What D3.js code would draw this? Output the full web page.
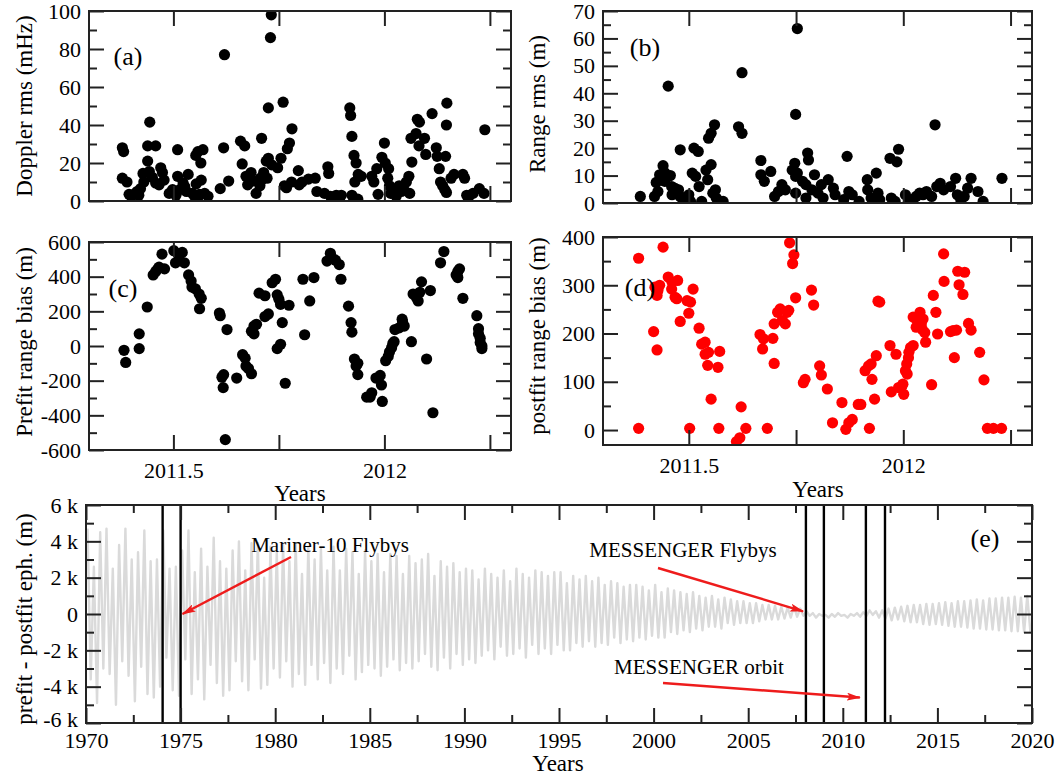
<!DOCTYPE html>
<html><head><meta charset="utf-8">
<script src="https://cdn.jsdelivr.net/npm/d3@7"></script>
<style>
body{margin:0;background:#fff}
svg{display:block}
text{font-family:"Liberation Serif","Times New Roman",Times,serif;fill:#000}
</style>
</head><body>
<svg id="chart" width="1059" height="776"></svg>
<script>
// ---------- Panel (a): Doppler rms (mHz) ----------
const aYear = [2011.379,2011.382,2011.379,2011.390,2011.395,2011.400,2011.410,2011.418,2011.414,2011.422,2011.430,2011.428,2011.439,2011.439,2011.444,2011.458,2011.443,2011.450,2011.458,2011.470,2011.474,2011.478,2011.466,2011.490,2011.498,2011.506,2011.510,2011.510,2011.515,2011.523,2011.531,2011.535,2011.527,2011.545,2011.550,2011.554,2011.558,2011.562,2011.558,2011.553,2011.565,2011.566,2011.570,2011.582,2011.574,2011.611,2011.619,2011.621,2011.631,2011.659,2011.669,2011.663,2011.672,2011.676,2011.684,2011.688,2011.696,2011.705,2011.709,2011.709,2011.720,2011.725,2011.725,2011.730,2011.732,2011.733,2011.722,2011.714,2011.706,2011.747,2011.755,2011.760,2011.770,2011.775,2011.781,2011.763,2011.768,2011.780,2011.796,2011.798,2011.805,2011.820,2011.836,2011.840,2011.858,2011.872,2011.886,2011.866,2011.868,2011.898,2011.918,2011.920,2011.923,2011.923,2011.928,2011.933,2011.930,2011.938,2011.945,2011.937,2011.970,2011.975,2011.982,2011.985,2011.994,2012.000,2012.002,2012.010,2012.008,2012.012,2012.015,2012.022,2012.028,2012.035,2012.040,2012.046,2012.052,2012.058,2012.060,2012.065,2012.063,2012.075,2012.078,2012.083,2012.082,2012.095,2012.098,2012.113,2012.123,2012.125,2012.130,2012.133,2012.138,2012.143,2012.147,2012.148,2012.147,2012.145,2012.158,2012.165,2012.186,2012.190,2012.195,2012.202,2012.210,2012.225,2012.236,2012.238];
const aVal  = [28,26,12,10,3.5,2.5,4,3,5,6.5,10,14.5,21,29,41.5,29,15.5,12.5,9.5,17.5,15,11,8.5,4,6,3,13,27,6,9.5,5,14,7.5,4,2.5,9,1.8,3.5,26,24,20,11,27,2.5,4,6.5,28,77,10.5,31.5,29,19.5,13,8.5,15,10.5,4,8,11,33,21,22.5,49,86,98,19,12,15,12,17.5,22.5,52,27.5,30.5,38,8,7,10,16,8.5,10,11.5,12,5,4,2.5,3,18,14.5,3,49,45,34,3,24,20,10,14,13,1,13,10,17,3.5,23,30.5,20,17,12,8,4,6,2.5,8,5,6,10,13,4,20.5,33,35.5,43,41.5,29,33,24.5,46,28,23.5,17,10,8,6,4.5,51.5,40,23.5,12,14,14,12,3,3,4,6.5,4,37.5];

// ---------- Panel (b): Range rms (m) ----------
const bYear = [2011.387,2011.420,2011.428,2011.424,2011.432,2011.440,2011.444,2011.452,2011.444,2011.457,2011.460,2011.461,2011.468,2011.476,2011.480,2011.484,2011.480,2011.500,2011.504,2011.508,2011.512,2011.516,2011.522,2011.524,2011.530,2011.540,2011.544,2011.546,2011.552,2011.552,2011.556,2011.560,2011.562,2011.564,2011.572,2011.580,2011.616,2011.624,2011.624,2011.668,2011.668,2011.676,2011.691,2011.700,2011.709,2011.717,2011.725,2011.741,2011.747,2011.749,2011.749,2011.753,2011.749,2011.753,2011.765,2011.773,2011.777,2011.779,2011.773,2011.787,2011.793,2011.801,2011.809,2011.813,2011.825,2011.837,2011.841,2011.861,2011.869,2011.873,2011.881,2011.897,2011.916,2011.917,2011.925,2011.937,2011.941,2011.945,2011.969,2011.972,2011.985,2011.989,2011.981,2012.005,2012.012,2012.022,2012.030,2012.038,2012.046,2012.054,2012.066,2012.074,2012.078,2012.086,2012.094,2012.110,2012.122,2012.126,2012.134,2012.142,2012.150,2012.158,2012.174,2012.186,2012.230];
const bVal  = [2.4,2.4,4.2,7.5,10.3,13.6,11,42.6,7.9,10,6,3,5.3,4.8,2.4,1.8,19.4,3,0.6,10.9,20,9.7,18.8,6,0.6,12,8.5,23.6,25.4,14,3.6,28.5,4.8,1.8,0.6,0.6,27.8,25.4,47.5,15.5,10.3,7.9,11.5,2.4,4.2,6.7,4.8,12,14.5,3.6,9.7,10.9,32.3,63.6,7.9,6.7,18.2,15.7,1.8,4.8,10.3,3.6,6.7,1.8,8.5,5.4,3,1.2,17,4.2,3,0.6,8.5,4.8,1.8,10.9,3.6,1.2,16.3,1.8,15,19.6,0.6,3,0.6,1.2,2.4,3.6,3,4.2,2.4,28.5,6,7.2,4.8,6,9,3,1.2,2.4,5.4,9,4.2,0.6,9];

// ---------- Panel (c): Prefit range bias (m) ----------
const cYear = [2011.383,2011.387,2011.419,2011.419,2011.438,2011.452,2011.458,2011.463,2011.466,2011.473,2011.479,2011.501,2011.505,2011.513,2011.521,2011.526,2011.536,2011.542,2011.544,2011.552,2011.561,2011.566,2011.562,2011.609,2011.611,2011.615,2011.619,2011.618,2011.623,2011.627,2011.650,2011.664,2011.670,2011.672,2011.678,2011.685,2011.685,2011.691,2011.691,2011.697,2011.703,2011.717,2011.717,2011.725,2011.734,2011.742,2011.746,2011.750,2011.754,2011.758,2011.746,2011.754,2011.765,2011.774,2011.807,2011.811,2011.823,2011.833,2011.864,2011.872,2011.874,2011.884,2011.893,2011.897,2011.915,2011.921,2011.923,2011.929,2011.933,2011.937,2011.937,2011.958,2011.966,2011.970,2011.980,2011.990,2011.993,2011.995,2012.003,2012.009,2012.012,2012.017,2012.020,2012.023,2012.025,2012.035,2012.042,2012.043,2012.047,2012.064,2012.068,2012.076,2012.080,2012.084,2012.088,2012.100,2012.109,2012.115,2012.133,2012.141,2012.170,2012.174,2012.178,2012.174,2012.186,2012.219,2012.223,2012.223,2012.227,2012.227,2012.231,2012.231];
const cVal  = [-25,-95,70,-15,225,410,430,445,455,530,445,550,480,520,540,480,410,375,340,330,300,275,215,190,175,-180,-165,-240,-540,95,-185,-50,-70,-115,-130,-160,85,70,115,125,305,290,170,185,365,385,295,270,240,135,-15,10,-215,235,385,65,260,395,490,535,515,495,470,385,230,135,80,-75,-115,-100,-165,-295,-295,-270,-185,-170,-225,-320,-85,-60,-35,-10,15,25,95,105,155,140,115,25,300,280,260,310,370,-75,320,-385,480,545,410,430,445,395,275,175,100,70,45,20,0,-15];

// ---------- Panel (d): postfit range bias (m) ----------
const dYear = [2011.383,2011.383,2011.418,2011.426,2011.421,2011.426,2011.432,2011.428,2011.440,2011.452,2011.461,2011.460,2011.468,2011.472,2011.474,2011.480,2011.496,2011.500,2011.504,2011.510,2011.502,2011.524,2011.530,2011.538,2011.538,2011.546,2011.544,2011.552,2011.568,2011.572,2011.570,2011.611,2011.619,2011.622,2011.633,2011.666,2011.672,2011.674,2011.683,2011.696,2011.699,2011.699,2011.707,2011.713,2011.718,2011.725,2011.729,2011.733,2011.735,2011.745,2011.742,2011.749,2011.767,2011.771,2011.786,2011.791,2011.805,2011.809,2011.823,2011.835,2011.857,2011.866,2011.873,2011.881,2011.895,2011.901,2011.911,2011.919,2011.921,2011.925,2011.927,2011.933,2011.937,2011.941,2011.945,2011.969,2011.983,2011.972,2011.989,2011.999,2012.001,2011.996,2012.005,2012.008,2012.009,2012.012,2012.013,2012.017,2012.023,2012.023,2012.030,2012.030,2012.034,2012.039,2012.042,2012.044,2012.046,2012.050,2012.052,2012.066,2012.070,2012.076,2012.080,2012.094,2012.095,2012.110,2012.116,2012.119,2012.124,2012.127,2012.130,2012.139,2012.143,2012.152,2012.158,2012.178,2012.188,2012.196,2012.210,2012.229];
const dVal  = [356,3.5,204,166,296,279,300,289,379,317,306,292,275,272,310,225,268,242,265,292,3.5,211,178,182,157,161,134,64,130,163,3.5,-24,-16,48,3.5,198,168,189,3.5,190,220,138,244,251,227,220,244,248,388,363,345,274,98,105,290,259,133,114,85,15,57,1.4,15,22,53,53,123,133,3.5,137,105,64,154,267,265,175,157,79,88,95,74,90,123,137,116,150,161,171,175,234,213,230,227,244,220,209,230,202,182,94,279,244,199,365,308,204,206,150,207,329,301,281,327,221,207,161,104,3.5,3.5,3.5];

// ---------- Panel (e): prefit - postfit ephemeris (k m), alternating max/min per year ----------
const eYears = [1970,1971,1972,1973,1974,1975,1976,1977,1978,1979,1980,1981,1982,1983,1984,1985,1986,1987,1988,1989,1990,1991,1992,1993,1994,1995,1996,1997,1998,1999,2000,2001,2002,2003,2004,2005,2006,2007,2008,2009,2010,2011,2012,2013,2014,2015,2016,2017,2018,2019];
const eSwing = [
 [4.7,-3.6,2.6,-4.9,4.5,-3.0],[4.7,-3.3,2.5,-5.0,3.8,-2.6],[4.7,-3.4,3.0,-4.8,3.4,-2.9],[4.6,-4.4,2.9,-4.6,3.0,-4.0],
 [4.6,-2.4,2.5,-4.2,2.6,-4.5],[3.5,-2.5,4.6,-4.4,2.3,-3.6],[3.6,-4.7,2.6,-2.8,4.2,-3.8],[2.9,-4.5,2.5,-4.2,3.5,-2.6],
 [4.0,-3.7,2.4,-4.2,3.9,-2.5],[3.9,-4.1,2.0,-3.9,3.7,-3.0],[3.4,-3.5,3.8,-2.6,2.9,-4.0],[3.9,-3.3,2.2,-3.9,3.7,-2.8],
 [3.0,-3.6,3.6,-2.7,2.4,-3.8],[3.7,-3.0,2.4,-3.3,3.6,-2.3],[3.4,-3.6,2.2,-3.2,3.5,-2.8],[2.9,-3.0,3.3,-3.4,2.3,-2.9],
 [3.3,-2.5,3.2,-3.1,2.2,-2.7],[3.2,-3.0,2.8,-2.6,3.0,-2.2],[3.3,-2.9,2.1,-3.1,2.9,-2.4],[2.6,-3.0,2.8,-2.2,2.3,-2.8],
 [2.5,-2.5,2.4,-2.7,1.9,-2.3],[2.5,-2.0,2.2,-2.5,2.0,-1.8],[2.4,-2.3,1.8,-2.2,2.5,-1.9],[2.2,-2.4,2.0,-1.7,2.4,-2.2],
 [2.3,-1.9,2.1,-2.2,2.3,-1.7],[2.3,-2.0,1.7,-2.0,2.1,-1.6],[1.9,-1.8,2.1,-1.5,1.8,-1.8],[2.0,-1.6,1.6,-1.7,1.8,-1.3],
 [1.7,-1.6,1.5,-1.4,1.6,-1.5],[1.6,-1.3,1.5,-1.4,1.3,-1.2],[1.6,-1.3,1.2,-1.3,1.4,-1.0],[1.3,-1.1,1.2,-0.9,1.1,-1.0],
 [1.2,-0.8,1.0,-0.9,0.9,-0.7],[1.0,-0.7,0.8,-0.8,0.9,-0.5],[0.8,-0.6,0.7,-0.5,0.7,-0.5],[0.6,-0.5,0.6,-0.4,0.5,-0.3],
 [0.5,-0.3,0.45,-0.3,0.4,-0.25],[0.35,-0.2,0.4,-0.15,0.3,-0.1],[0.15,-0.1,0.05,-0.2,0.0,-0.1],[-0.05,-0.2,0.0,-0.15,0.05,-0.1],
 [-0.05,-0.2,0.0,-0.1,0.05,-0.15],[0.1,-0.1,0.2,-0.05,0.15,-0.2],[0.2,-0.25,0.3,-0.35,0.35,-0.3],[0.4,-0.4,0.45,-0.45,0.5,-0.45],
 [0.5,-0.55,0.55,-0.6,0.55,-0.55],[0.6,-0.6,0.65,-0.65,0.6,-0.7],[0.7,-0.7,0.7,-0.75,0.75,-0.8],[0.8,-0.8,0.75,-0.85,0.85,-0.85],
 [0.85,-0.9,0.9,-0.9,0.9,-0.95],[0.95,-0.95,0.9,-1.0,1.0,-1.0]
];
const flybyYears = [1974.05, 1975.0, 2008.05, 2009.0, 2011.22, 2012.23];

// tick definitions
const aMajor=[0,20,40,60,80,100], aMinor=[10,30,50,70,90];
const bMajor=[0,10,20,30,40,50,60,70], bMinor=[5,15,25,35,45,55,65];
const cMajor=[-600,-400,-200,0,200,400,600], cMinor=[-500,-300,-100,100,300,500];
const dMajor=[0,100,200,300,400], dMinor=[50,150,250,350];
const smallXMajor=[2011.5,2012], smallXMinor=[2011.75,2012.25];
const eXMajor=[1970,1975,1980,1985,1990,1995,2000,2005,2010,2015,2020];
const eXMinor=[1972.5,1977.5,1982.5,1987.5,1992.5,1997.5,2002.5,2007.5,2012.5,2017.5];
const eYMajor=[-6,-4,-2,0,2,4,6], eYMinor=[-5,-3,-1,1,3,5];

const svg = d3.select("#chart");
const AX = "#222";

function panel(o){
  const g = svg.append("g");
  const x = d3.scaleLinear().domain(o.xd).range([o.x0,o.x1]);
  const y = d3.scaleLinear().domain(o.yd).range([o.y1,o.y0]);
  const id = "clip"+o.tag.replace(/\W/g,"");
  svg.append("clipPath").attr("id",id).append("rect")
     .attr("x",o.x0).attr("y",o.y0).attr("width",o.x1-o.x0).attr("height",o.y1-o.y0);
  const content = g.append("g").attr("clip-path",`url(#${id})`);
  function ax(gen, tr, vals, size, fmt){
    const a = g.append("g").attr("transform",tr)
      .call(gen.tickValues(vals).tickSize(size).tickPadding(o.pad||8).tickFormat(fmt||""));
    a.select(".domain").remove();
    a.selectAll("line").attr("stroke",AX).attr("stroke-width",2);
    a.selectAll("text").attr("font-size",22).attr("fill","#000")
      .style("font-family",'"Liberation Serif","Times New Roman",serif');
    return a;
  }
  const yl = ax(d3.axisLeft(y), `translate(${o.x0},0)`, o.yMaj, -15, o.yfmt||(d=>d));
  if(o.yLabShift) yl.selectAll("text").attr("dy", d=> d===o.yd[0] ? "0.15em" : "0.32em");
  ax(d3.axisLeft(y), `translate(${o.x0},0)`, o.yMin, -o.yMinLen);
  ax(d3.axisRight(y), `translate(${o.x1},0)`, o.yMaj, -15);
  ax(d3.axisRight(y), `translate(${o.x1},0)`, o.yMin, -o.yMinLen);
  const xb = ax(d3.axisBottom(x), `translate(0,${o.y1})`, o.xMaj, -15, o.xLabels ? (o.xfmt||(d=>d)) : "");
  xb.selectAll("text").attr("dy","0.71em").attr("y", o.xLabPad||12);
  ax(d3.axisBottom(x), `translate(0,${o.y1})`, o.xMin, -o.xMinLen);
  ax(d3.axisTop(x), `translate(0,${o.y0})`, o.xMaj, -15);
  ax(d3.axisTop(x), `translate(0,${o.y0})`, o.xMin, -o.xMinLen);
  g.append("rect").attr("x",o.x0).attr("y",o.y0).attr("width",o.x1-o.x0).attr("height",o.y1-o.y0)
    .attr("fill","none").attr("stroke",AX).attr("stroke-width",2);
  g.append("text").attr("transform",`translate(${o.ytx},${o.yty}) rotate(-90)`)
    .attr("text-anchor","middle").attr("dy","0.35em").attr("font-size",23).text(o.ytitle);
  if(o.xtitle) g.append("text").attr("x",o.xtx).attr("y",o.xty).attr("text-anchor","middle")
    .attr("dy","0.35em").attr("font-size",23).text(o.xtitle);
  g.append("text").attr("x",o.tx).attr("y",o.ty).attr("text-anchor","middle").attr("dy","0.35em")
    .attr("font-size",26).text(o.tag);
  return {x,y,content,g};
}

function scatter(p, xs, ys, color){
  p.content.selectAll("circle.pt").data(xs).join("circle").attr("class","pt")
    .attr("cx",(d)=>p.x(d)).attr("cy",(d,i)=>p.y(ys[i])).attr("r",5.6).attr("fill",color);
}

const XD=[2011.3,2012.3];
const pa = panel({tag:"(a)",x0:89,x1:511,y0:11,y1:201,xd:XD,yd:[0,100],yMaj:aMajor,yMin:aMinor,yMinLen:8,
  xMaj:smallXMajor,xMin:smallXMinor,xMinLen:15,xLabels:false,ytitle:"Doppler rms (mHz)",ytx:24,yty:106,tx:128,ty:56});
scatter(pa,aYear,aVal,"#000");

const pb = panel({tag:"(b)",x0:603,x1:1032,y0:11,y1:203,xd:XD,yd:[0,70],yMaj:bMajor,yMin:bMinor,yMinLen:8,
  xMaj:smallXMajor,xMin:smallXMinor,xMinLen:15,xLabels:false,ytitle:"Range rms (m)",ytx:537,yty:104,tx:645,ty:47});
scatter(pb,bYear,bVal,"#000");

const pc = panel({tag:"(c)",x0:89,x1:511,y0:242,y1:450,xd:XD,yd:[-600,600],yMaj:cMajor,yMin:cMinor,yMinLen:8,
  xMaj:smallXMajor,xMin:smallXMinor,xMinLen:15,xLabels:true,ytitle:"Prefit range bias (m)",ytx:24,yty:342,
  xtitle:"Years",xtx:300,xty:493,tx:123,ty:288});
scatter(pc,cYear,cVal,"#000");

const pd = panel({tag:"(d)",x0:603,x1:1032,y0:237,y1:445,xd:XD,yd:[-31,400],yMaj:dMajor,yMin:dMinor,yMinLen:8,
  xMaj:smallXMajor,xMin:smallXMinor,xMinLen:15,xLabels:true,ytitle:"postfit range bias (m)",ytx:537,yty:336,
  xtitle:"Years",xtx:818,xty:489,tx:640,ty:287});
scatter(pd,dYear,dVal,"#ff0000");

const pe = panel({tag:"(e)",x0:86,x1:1032,y0:505,y1:723,xd:[1970,2020],yd:[-6,6],yMaj:eYMajor,yMin:eYMinor,yMinLen:8,
  xMaj:eXMajor,xMin:eXMinor,xMinLen:8,xLabels:true,xLabPad:9,yfmt:d=>d===0?"0":d+" k",yLabShift:true,
  ytitle:"prefit - postfit eph. (m)",ytx:24,yty:619,xtitle:"Years",xtx:558,xty:763,tx:985,ty:538});

// grey oscillation line
const ePts = [];
eYears.forEach((yr,i)=>eSwing[i].forEach((v,j)=>ePts.push([yr+(j+0.5)/eSwing[i].length, v])));
pe.content.append("path").datum(ePts)
  .attr("d", d3.line().x(d=>pe.x(d[0])).y(d=>pe.y(d[1])).curve(d3.curveLinear))
  .attr("fill","none").attr("stroke","#dadada").attr("stroke-width",2.4).attr("stroke-linejoin","round");

// flyby / orbit vertical lines
pe.content.selectAll("line.fb").data(flybyYears).join("line").attr("class","fb")
  .attr("x1",d=>pe.x(d)).attr("x2",d=>pe.x(d)).attr("y1",pe.y(6)).attr("y2",pe.y(-6))
  .attr("stroke","#000").attr("stroke-width",2.4);

// annotations
svg.append("defs").append("marker").attr("id","arr").attr("viewBox","0 0 14 8")
  .attr("refX",13).attr("refY",4).attr("markerWidth",14).attr("markerHeight",8)
  .attr("markerUnits","userSpaceOnUse").attr("orient","auto")
  .append("path").attr("d","M0,0 L14,4 L0,8 L3,4 z").attr("fill","#ee1c1c");

const notes = [
  {text:"Mariner-10 Flybys", tx:330, ty:545, from:[291,557], to:[1975.1, 0.0]},
  {text:"MESSENGER Flybys", tx:683, ty:550, from:[658,568], to:[2007.9, 0.15]},
  {text:"MESSENGER orbit", tx:699, ty:667, from:[663,683], to:[2010.9, -4.6]}
];
notes.forEach(n=>{
  svg.append("text").attr("x",n.tx).attr("y",n.ty).attr("text-anchor","middle").attr("dy","0.35em")
    .attr("font-size",21).text(n.text);
  svg.append("line").attr("x1",n.from[0]).attr("y1",n.from[1])
    .attr("x2",pe.x(n.to[0])).attr("y2",pe.y(n.to[1]))
    .attr("stroke","#ee1c1c").attr("stroke-width",2.4).attr("marker-end","url(#arr)");
});
</script>
</body></html>
